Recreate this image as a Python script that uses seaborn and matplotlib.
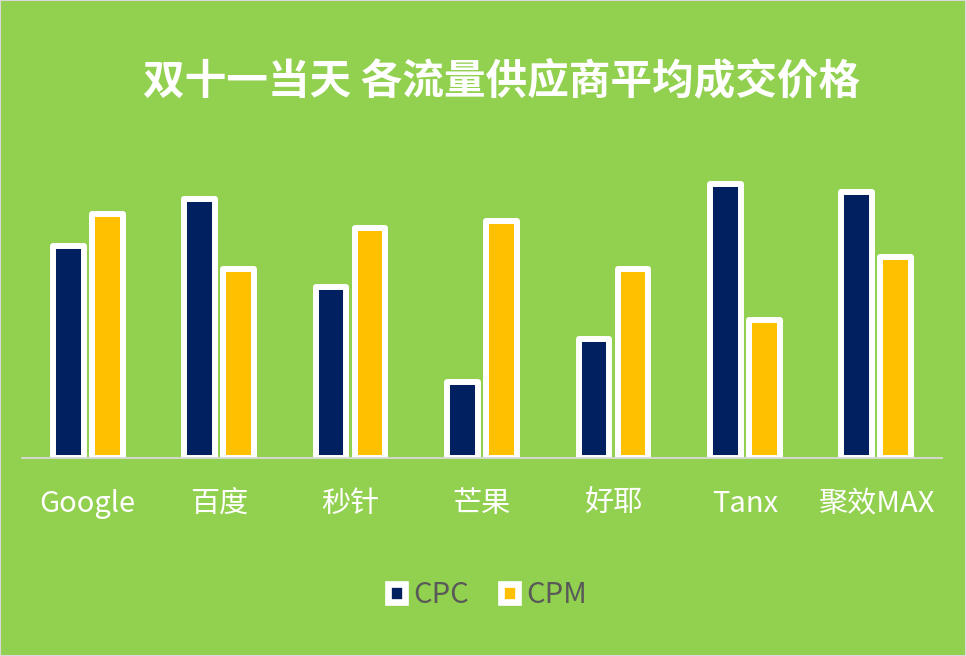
import matplotlib
matplotlib.use("Agg")
import matplotlib.pyplot as plt
import seaborn as sns
import pandas as pd
from matplotlib.patches import Patch

categories = ["Google", "百度", "秒针", "芒果", "好耶", "Tanx", "聚效MAX"]
cpc = [212, 259, 171, 76, 119, 274, 266]
cpm = [244, 189, 230, 237, 189, 138, 201]
series = ["CPC", "CPM"]
title = "双十一当天 各流量供应商平均成交价格"

BG = "#92D050"
NAVY = "#002060"
GOLD = "#FFC000"

df = pd.DataFrame({
    "cat": categories * 2,
    "val": cpc + cpm,
    "series": [series[0]] * len(categories) + [series[1]] * len(categories),
})

sns.set_theme(style="white")
plt.rcParams["font.family"] = ["Noto Sans CJK SC", "DejaVu Sans"]

fig = plt.figure(figsize=(9.66, 6.56), dpi=100, facecolor=BG)
ax = fig.add_axes([22 / 966, (656 - 458) / 656, 920 / 966, 300 / 656])
ax.set_facecolor(BG)

sns.barplot(data=df, x="cat", y="val", hue="series", order=categories,
            hue_order=series, palette=[NAVY, GOLD], width=0.594, gap=0.213,
            edgecolor="white", linewidth=4.3, saturation=1, ax=ax, legend=False)
for p in ax.patches:
    p.set_joinstyle("round")

ax.set_xlim(-0.5, len(categories) - 0.5)
ax.set_ylim(0, 300)
ax.set_xlabel("")
ax.set_ylabel("")
ax.set_yticks([])
for s in ["top", "left", "right"]:
    ax.spines[s].set_visible(False)
ax.spines["bottom"].set_color("#D9D9D9")
ax.spines["bottom"].set_linewidth(1.3)
ax.spines["bottom"].set_zorder(5)
ax.tick_params(axis="x", length=0, pad=22, labelsize=21, labelcolor="white")

fig.text(0.519, 0.877, title, ha="center", va="center", fontsize=30,
         fontweight="bold", color="white")

handles = [Patch(facecolor=NAVY, edgecolor="white", linewidth=4.8, joinstyle="round"),
           Patch(facecolor=GOLD, edgecolor="white", linewidth=4.8, joinstyle="round")]
leg = fig.legend(handles, series, loc="center", bbox_to_anchor=(0.505, 0.093),
                 ncol=2, frameon=False, fontsize=21, handlelength=0.57,
                 handleheight=0.57, handletextpad=0.3, columnspacing=1.1)
for t in leg.get_texts():
    t.set_color("#595959")

fig.patches.append(plt.Rectangle((0, 0), 1, 1, transform=fig.transFigure,
                                 fill=False, edgecolor="#D9D9D9", linewidth=1.5))

fig.savefig("out.png", dpi=100, facecolor=BG)
